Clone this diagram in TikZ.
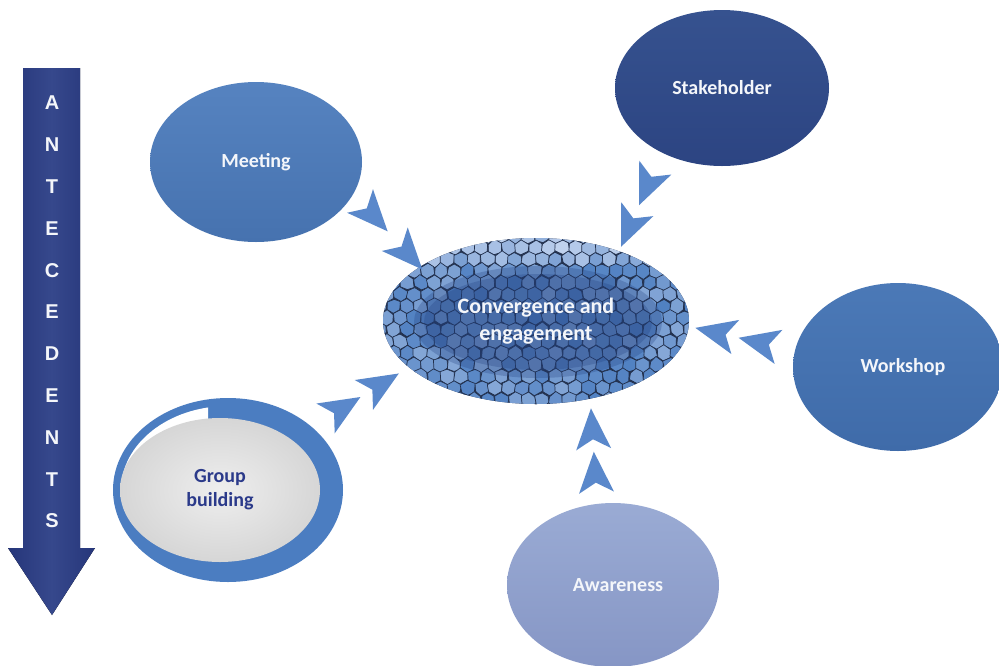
\documentclass[tikz,border=0pt]{standalone}
\usepackage{fontspec}
\setmainfont{Carlito}
\newfontfamily\arialfont{Liberation Sans}
\usetikzlibrary{shapes.geometric,decorations.markings}

\definecolor{meettop}{HTML}{5683C0}
\definecolor{meetbot}{HTML}{4672AF}
\definecolor{staketop}{HTML}{36528F}
\definecolor{stakebot}{HTML}{2C4482}
\definecolor{worktop}{HTML}{4B79B7}
\definecolor{workbot}{HTML}{3F6BA9}
\definecolor{awaretop}{HTML}{9AABD4}
\definecolor{awarebot}{HTML}{8696C5}
\definecolor{ringc}{HTML}{4B7DC1}
\definecolor{grayin}{HTML}{EEEEEE}
\definecolor{grayout}{HTML}{D6D6D6}
\definecolor{grouptext}{HTML}{2B3A8A}
\definecolor{arrowmid}{HTML}{36488C}
\definecolor{arrowedge}{HTML}{26367A}
\definecolor{chevc}{HTML}{5A88CB}
\definecolor{mortar}{HTML}{22304D}
\definecolor{cellmid}{HTML}{4F80C2}
\definecolor{celllight}{HTML}{C6D6F0}
\definecolor{innerc}{HTML}{22407F}
\definecolor{labelc}{HTML}{F4F6FA}

\newcommand\chevshape{\fill[chevc] (20,0) -- (-21,17.5) -- (-11,0) -- (-21,-17.5) -- cycle;}

\tikzset{
  bubble/.style={ellipse, inner sep=0pt, outer sep=0pt, text=labelc,
    font=\bfseries\fontsize{20}{24}\selectfont, align=center},
  chevpair/.style 2 args={postaction={decorate}, decoration={markings,
    mark=at position #1 with {\chevshape}, mark=at position #2 with {\chevshape}}},
  arrowletter/.style={text=labelc, font=\arialfont\bfseries\fontsize{20}{22}\selectfont, inner sep=0pt},
}

\begin{document}
\begin{tikzpicture}[x=1pt, y=-1pt]
\useasboundingbox (0,0) rectangle (999,665);
\fill[white] (0,0) rectangle (999,665);

% Antecedents arrow
\fill[left color=arrowedge, right color=arrowedge, middle color=arrowmid]
  (23,68) -- (80,68) -- (80,548) -- (95,548) -- (52,615) -- (8,548) -- (23,548) -- cycle;
\foreach \l [count=\i] in {A,N,T,E,C,E,D,E,N,T,S}
  \node[arrowletter] (let\i) at (52,{103+(\i-1)*41.8}) {\l};

% satellite ellipses
\node[bubble, minimum width=212pt, minimum height=160pt, top color=meettop, bottom color=meetbot] (meet) at (256,162) {Meeting};
\node[bubble, minimum width=214pt, minimum height=156pt, top color=staketop, bottom color=stakebot] (stake) at (722,88) {Stakeholder};
\node[bubble, minimum width=210pt, minimum height=168pt, top color=worktop, bottom color=workbot] (work) at (898,367) {\hspace*{10pt}Workshop};
\node[bubble, minimum width=212pt, minimum height=164pt, top color=awaretop, bottom color=awarebot] (aware) at (613,585) {\hspace*{10pt}Awareness};

% group building
\node[ellipse, inner sep=0pt, outer sep=0pt, minimum width=230pt, minimum height=184pt, fill=ringc] (group) at (228,490) {};
\begin{scope}
  \clip (100,380) rectangle (208,483);
  \fill[white] (228,490) ellipse [x radius=107, y radius=84];
\end{scope}
\node[bubble, minimum width=200pt, minimum height=144pt, inner color=grayin, outer color=grayout, text=grouptext] (groupin) at (220,490) {Group\\building};

% central mosaic
\begin{scope}
  \clip (536,321) ellipse [x radius=153, y radius=83];
  \fill[mortar] (536,321) ellipse [x radius=160, y radius=90];
  \pgfmathsetseed{11}
  \foreach \rr in {0,...,16}{
    \foreach \cc in {0,...,24}{
      \pgfmathsetmacro\cx{380+\cc*13.5+mod(\rr,2)*6.75}
      \pgfmathsetmacro\cy{236+\rr*11.7}
      \pgfmathtruncatemacro\ins{((\cx-536)/163)^2+((\cy-321)/93)^2<1}
      \ifnum\ins=1
        \pgfmathtruncatemacro\cellp{max(5,min(100,55+45*rnd-35*(\cy<262)-20*(\cy<250)))}
        \filldraw[fill=cellmid!\cellp!celllight, draw=mortar, line width=0.7pt, line join=round]
          ({\cx+7.7*cos(30)+1.0*rand},{\cy+7.7*sin(30)+1.0*rand}) --
          ({\cx+7.7*cos(90)+1.0*rand},{\cy+7.7*sin(90)+1.0*rand}) --
          ({\cx+7.7*cos(150)+1.0*rand},{\cy+7.7*sin(150)+1.0*rand}) --
          ({\cx+7.7*cos(210)+1.0*rand},{\cy+7.7*sin(210)+1.0*rand}) --
          ({\cx+7.7*cos(270)+1.0*rand},{\cy+7.7*sin(270)+1.0*rand}) --
          ({\cx+7.7*cos(330)+1.0*rand},{\cy+7.7*sin(330)+1.0*rand}) -- cycle;
      \fi
    }
  }
  \fill[innerc, opacity=0.28] (538,322) ellipse [x radius=124, y radius=56];
  \fill[innerc, opacity=0.28] (538,322) ellipse [x radius=114, y radius=48];
\end{scope}
\node[ellipse, inner sep=0pt, outer sep=0pt, minimum width=306pt, minimum height=166pt,
  text=labelc, font=\bfseries\fontsize{22}{27}\selectfont, align=center]
  (conv) at (536,321) {Convergence and\\engagement};

% chevron connectors
\path[chevpair={0.313}{0.835}] (meet.-18.7) -- (conv.155.7);
\path[chevpair={0.348}{0.769}] (stake.-133.8) -- (conv.40.1);
\path[chevpair={0.347}{0.754}] (work.171.4) -- (conv.-2.8);
\path[chevpair={0.306}{0.718}] (aware.101) -- (conv.-55.6);
\path[chevpair={0.327}{0.722}] (group.37.3) -- (conv.-160.2);
\end{tikzpicture}
\end{document}
